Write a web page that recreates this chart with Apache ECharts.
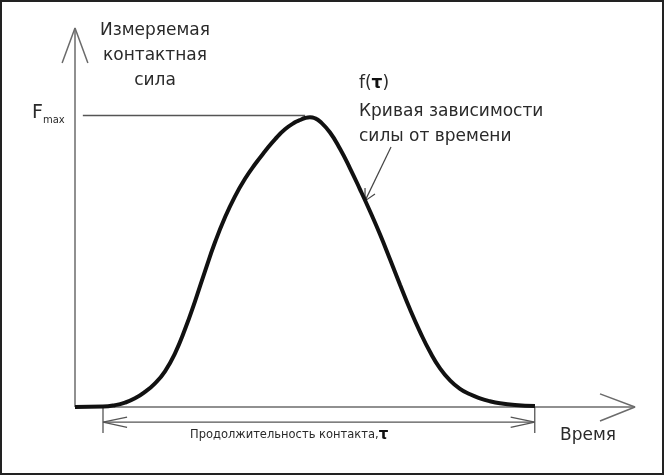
<!DOCTYPE html>
<html><head><meta charset="utf-8">
<script src="https://cdn.jsdelivr.net/npm/echarts@6/dist/echarts.min.js"></script>
<style>html,body{margin:0;padding:0;background:#fff}#c{width:664px;height:475px}</style>
</head><body><div id="c"></div>
<script>
// ---- data (time in arbitrary units, force relative to Fmax = 1) ----
const curveTime  = [0, 5.0, 7.14, 8.93, 10.71, 12.5, 14.29, 16.07, 17.86, 19.64, 21.43, 23.21, 25.0, 26.79, 28.57, 30.36, 32.14, 33.93, 35.71, 37.5, 39.29, 40.18, 41.07, 41.96, 42.86, 43.75, 45.54, 47.32, 49.11, 50.89, 52.68, 54.46, 56.25, 58.04, 59.82, 61.61, 63.39, 65.18, 66.96, 68.75, 70.54, 72.32, 74.11, 75.89, 78.57, 82.14];
const curveForce = [0, 0.0014, 0.0062, 0.0151, 0.0298, 0.0521, 0.0813, 0.1225, 0.1842, 0.2665, 0.3626, 0.4655, 0.5649, 0.6507, 0.7227, 0.7827, 0.8325, 0.8771, 0.9182, 0.9525, 0.9765, 0.9844, 0.9913, 0.9940, 0.9903, 0.9793, 0.9415, 0.8856, 0.8188, 0.7467, 0.6713, 0.5924, 0.5066, 0.4192, 0.3351, 0.2579, 0.1893, 0.1327, 0.0916, 0.0624, 0.0436, 0.0298, 0.0196, 0.0127, 0.0069, 0.0034];
const fmaxValue = 1.0;
const fmaxLineX = [1.4, 41.1];
const contactStart = 5;
const contactEnd = 82.1;
const xAxisMin = -10, xAxisMax = 100;
const yAxisMin = -0.2, yAxisMax = 1.3;
const xArrowTip = 100, yArrowTip = 1.3;
const dimLevel = -0.052;
const tickBottom = -0.089;
// arrow wings
const yArrowWings = [[-2.3, 1.180], [2.3, 1.180]];
const xArrowWings = [[93.75, 0.045], [93.75, -0.048]];
const dimArrowDx = 4.3, dimArrowDy = 0.0175;
const pointerStart = [56.43, 0.892];
const pointerTip = [51.79, 0.707];
const pointerWings = [[51.79, 0.751], [53.57, 0.731]];

const labelYAxis = 'Измеряемая\nконтактная\nсила';
const labelXAxis = 'Время';
const labelDuration = 'Продолжительность контакта,';
const labelCurve1 = 'Кривая зависимости';
const labelCurve2 = 'силы от времени';

// ---- build ----
const curveData = curveTime.map((t, i) => [t, curveForce[i]]);
const axisColor = '#6b6b6b';
const thin = (data, color, w) => ({
  type: 'line', data, symbol: 'none', showSymbol: false, clip: false, silent: true,
  lineStyle: { color: color || axisColor, width: w || 1.5 }
});
const series = [
  thin([[0, 0], [0, yArrowTip]]),
  thin([yArrowWings[0], [0, yArrowTip], yArrowWings[1]]),
  thin([[0, 0], [xArrowTip, 0]]),
  thin([xArrowWings[0], [xArrowTip, 0], xArrowWings[1]]),
  thin([[fmaxLineX[0], fmaxValue], [fmaxLineX[1], fmaxValue]], '#555', 1.4),
  thin([[contactStart, 0], [contactStart, tickBottom]], '#555', 1.3),
  thin([[contactEnd, 0], [contactEnd, tickBottom]], '#555', 1.3),
  thin([[contactStart, dimLevel], [contactEnd, dimLevel]], '#555', 1.3),
  thin([[contactStart + dimArrowDx, dimLevel + dimArrowDy], [contactStart, dimLevel], [contactStart + dimArrowDx, dimLevel - dimArrowDy]], '#555', 1.3),
  thin([[contactEnd - dimArrowDx, dimLevel + dimArrowDy], [contactEnd, dimLevel], [contactEnd - dimArrowDx, dimLevel - dimArrowDy]], '#555', 1.3),
  thin([pointerStart, pointerTip], '#444', 1.2),
  thin([pointerWings[0], pointerTip, pointerWings[1]], '#444', 1.2),
  Object.assign(thin(curveData, '#111', 4), { smooth: 0.5, z: 5 })
];

const font = '"DejaVu Sans", sans-serif';
const txt = '#2a2a2a';
const chart = echarts.init(document.getElementById('c'), null, { renderer: 'canvas' });
chart.setOption({
  animation: false,
  backgroundColor: '#fff',
  grid: { left: 19, top: 28, width: 616, height: 437.31 },
  xAxis: { type: 'value', min: xAxisMin, max: xAxisMax, show: false },
  yAxis: { type: 'value', min: yAxisMin, max: yAxisMax, show: false },
  series,
  graphic: [
    { type: 'rect', shape: { x: 1, y: 1, width: 662, height: 473 }, style: { fill: 'none', stroke: '#222', lineWidth: 2 }, silent: true },
    { type: 'text', x: 155, y: 18, style: { text: labelYAxis, font: '17px ' + font, fill: txt, lineHeight: 25, align: 'center' } },
    { type: 'text', left: 32, top: 104, style: { text: '{f|F}{s|max}', rich: { f: { fontSize: 19, fontFamily: font, fill: txt, verticalAlign: 'top' }, s: { fontSize: 10, fontFamily: font, fill: txt, padding: [11, 0, 0, 0] } } } },
    { type: 'text', left: 359, top: 75, style: { text: 'f({b|τ})', font: '17px ' + font, fill: txt, rich: { b: { fontSize: 17, fontWeight: 'bold', fontFamily: font, fill: '#111' } } } },
    { type: 'text', left: 359, top: 99, style: { text: labelCurve1 + '\n' + labelCurve2, font: '17px ' + font, fill: txt, lineHeight: 25 } },
    { type: 'text', left: 190, top: 428, style: { text: labelDuration + '{t|τ}', font: '11.5px ' + font, fill: txt, rich: { t: { fontSize: 15, fontWeight: 'bold', fontFamily: font, fill: '#111' } } } },
    { type: 'text', left: 560, top: 427, style: { text: labelXAxis, font: '17px ' + font, fill: txt } }
  ]
});
</script></body></html>
